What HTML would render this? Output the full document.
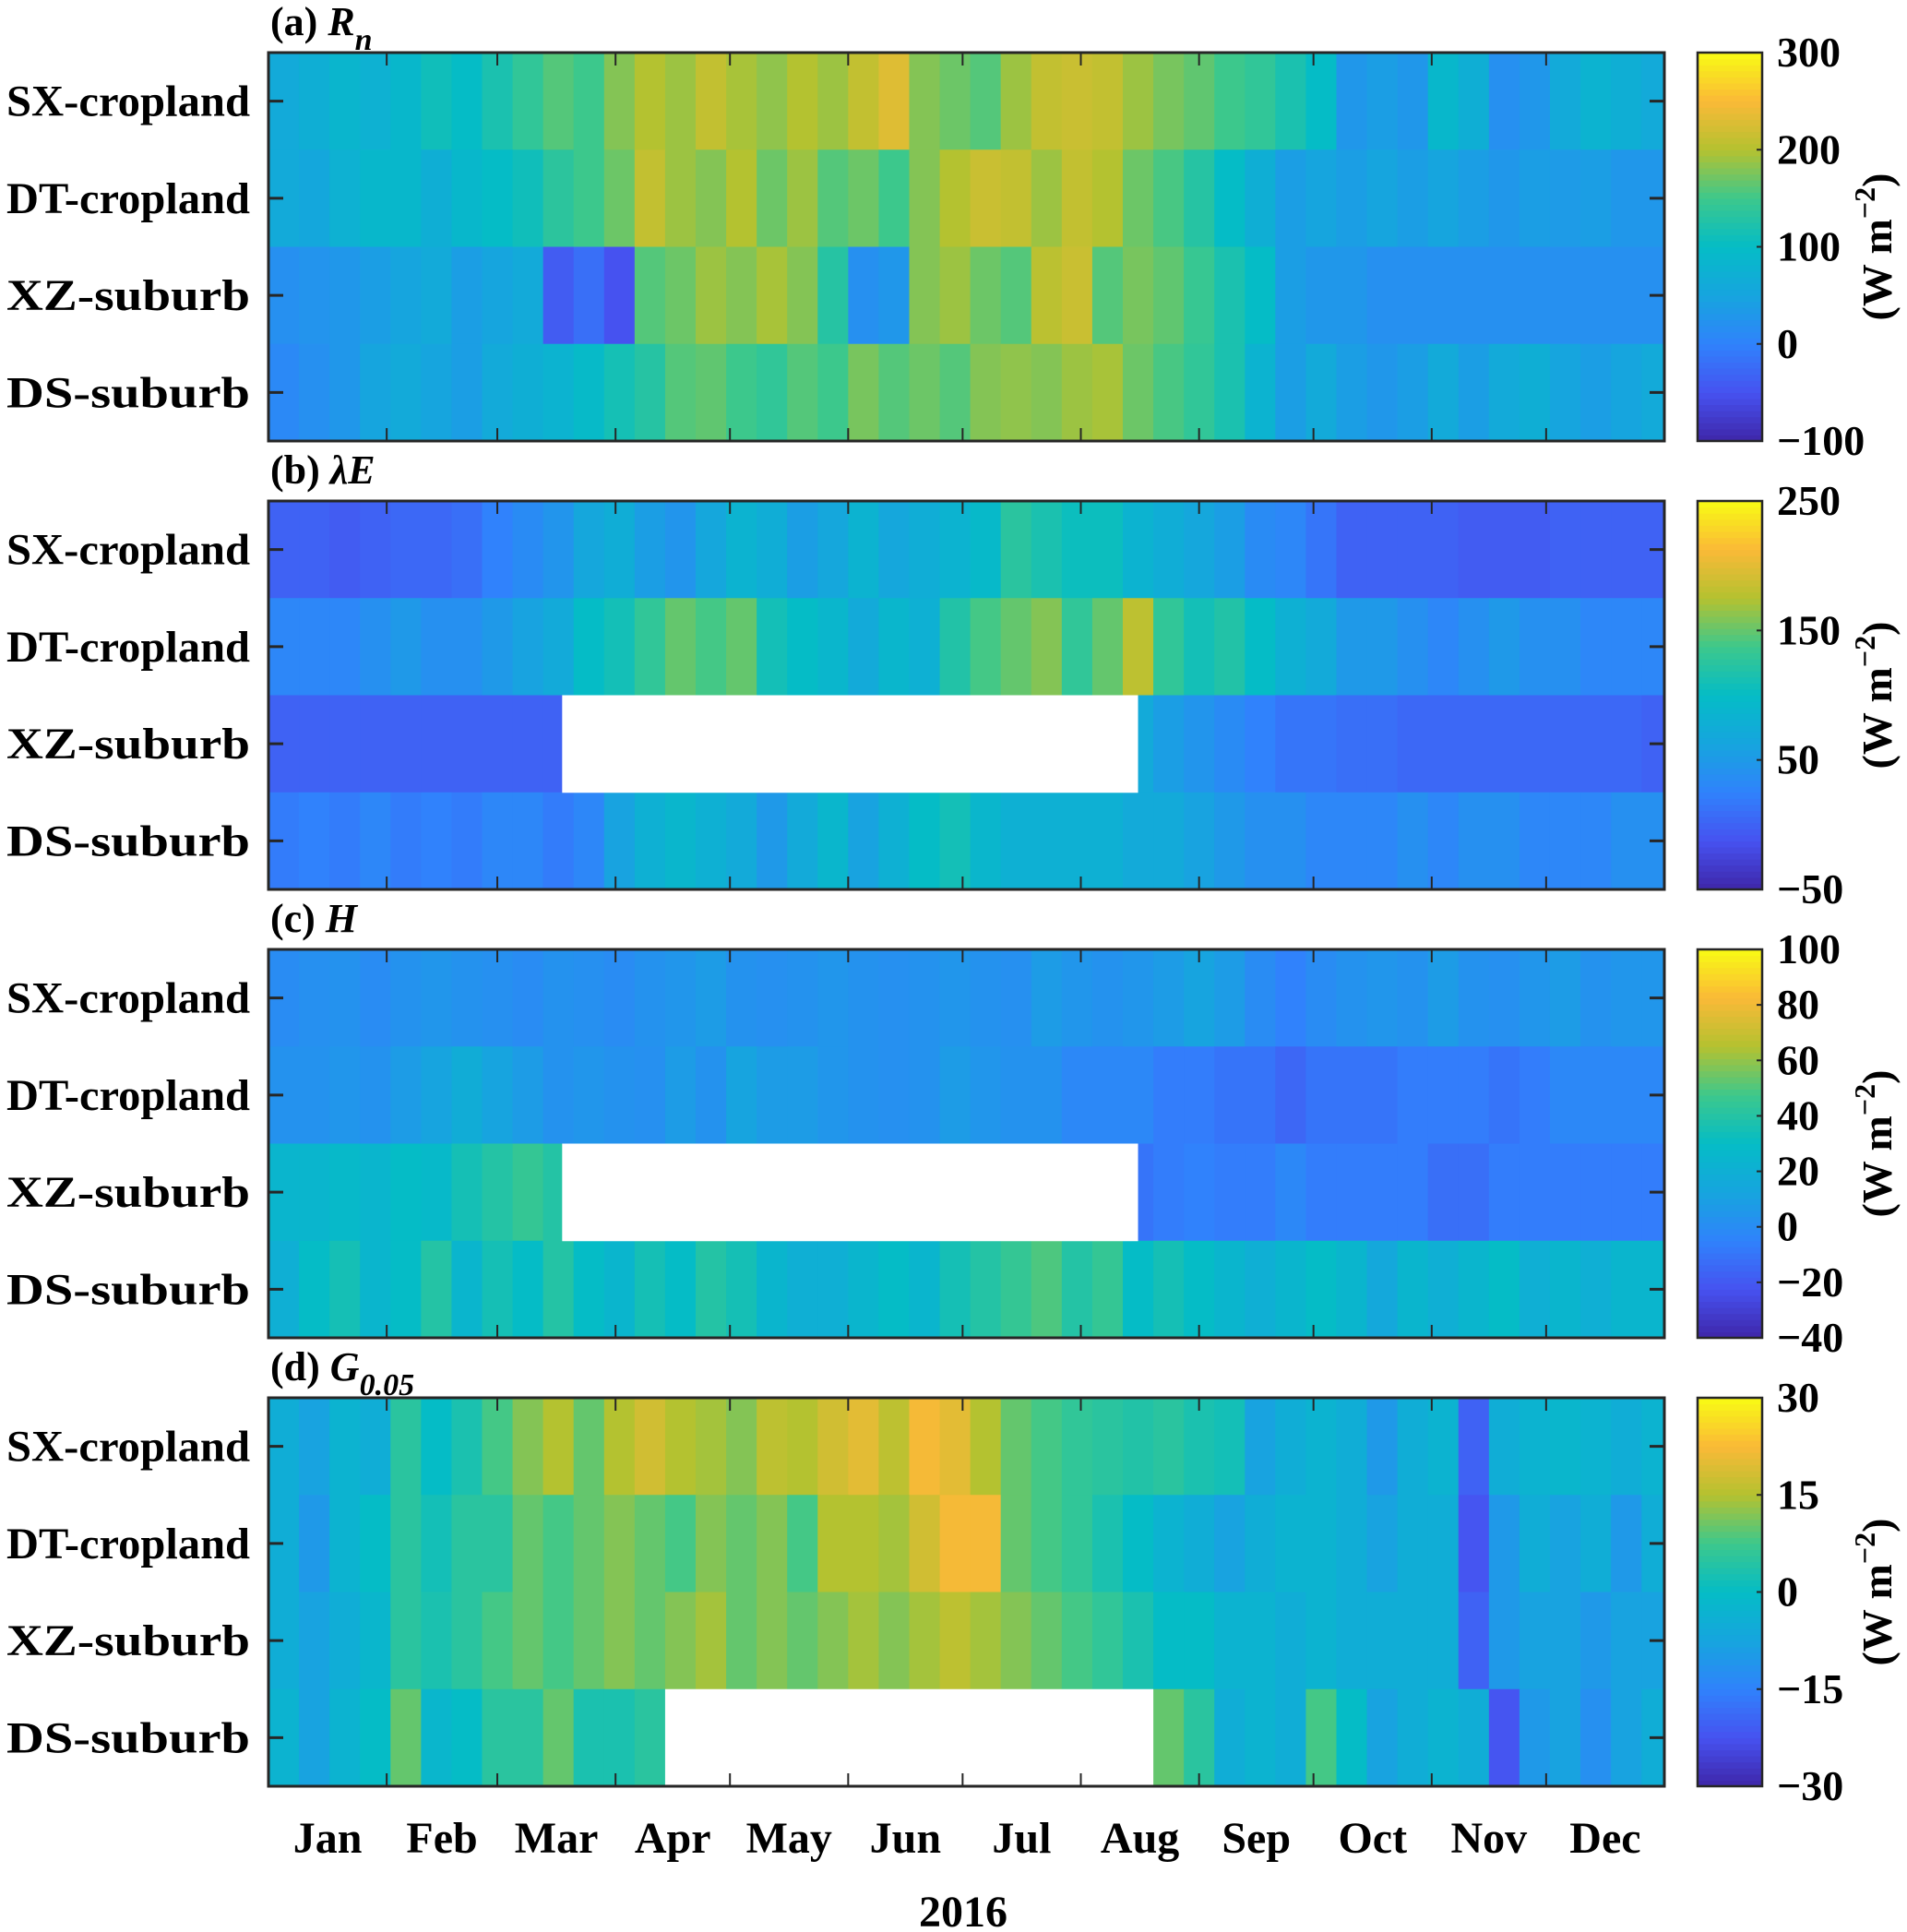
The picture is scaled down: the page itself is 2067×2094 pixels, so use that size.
<!DOCTYPE html>
<html><head><meta charset="utf-8"><style>
html,body{margin:0;padding:0;background:#fff}
svg{display:block}
text{font-family:"Liberation Serif",serif;font-weight:bold;fill:#000}
</style></head><body>
<svg id="fig" width="2067" height="2094" viewBox="0 0 2067 2094" xmlns="http://www.w3.org/2000/svg"></svg>
<script>
// ---- data (8-day bins, day-of-year 2016) ----
const sites = ["SX-cropland","DT-cropland","XZ-suburb","DS-suburb"];
const months = ["Jan","Feb","Mar","Apr","May","Jun","Jul","Aug","Sep","Oct","Nov","Dec"];
const monthStartDays = [1,32,61,92,122,153,183,214,245,275,306,336];
const binDays = 8;
const N = null;
const rnSX = [60,70,85,75,90,110,100,120,140,160,150,180,200,190,210,195,185,200,190,210,230,180,170,160,190,210,215,210,190,175,165,150,140,120,100,30,40,30,90,70,20,30,60,80,70,60];
const rnDT = [60,55,75,90,90,70,90,100,110,135,150,170,210,190,180,200,170,190,160,170,150,180,200,215,210,190,210,200,170,155,130,100,70,40,50,40,50,40,50,40,30,40,35,40,30,30];
const rnXZ = [20,25,30,40,50,60,40,50,60,-40,-20,-50,160,170,190,180,195,180,130,20,30,180,190,170,160,205,215,160,175,165,145,120,100,40,30,30,20,20,20,20,20,20,20,20,20,20];
const rnDS = [10,20,30,50,60,50,40,60,70,80,95,115,130,160,165,150,140,160,150,175,160,170,160,180,185,180,190,195,170,155,140,120,80,40,60,40,30,40,60,40,60,70,50,40,50,60];
const leSX = [0,0,-5,0,5,5,10,25,35,45,65,75,55,45,65,85,75,55,65,85,65,75,85,95,125,115,105,105,85,75,65,55,35,30,15,0,0,0,0,-5,-5,-5,0,0,0,0];
const leDT = [30,30,30,40,50,40,40,50,60,70,100,110,130,150,140,150,110,100,90,70,90,80,120,140,150,160,130,150,180,130,110,120,100,80,70,50,50,40,30,40,50,40,40,30,30,30];
const leXZ = [0,0,0,0,0,0,0,0,0,0,N,N,N,N,N,N,N,N,N,N,N,N,N,N,N,N,N,N,70,55,45,35,25,15,15,10,10,5,5,5,5,5,5,5,5,0];
const leDS = [20,25,20,30,20,25,20,30,30,20,30,60,80,90,80,70,50,70,90,60,80,100,110,90,80,80,80,80,70,70,60,50,40,40,30,30,30,40,30,40,40,30,30,30,40,40];
const hSX = [0,2,3,0,3,5,3,2,0,3,2,0,3,5,8,3,2,3,5,3,2,3,5,3,2,8,5,3,5,8,12,8,0,-5,0,3,5,3,8,3,2,5,8,3,5,5];
const hDT = [3,3,5,3,8,12,18,12,8,3,5,3,2,8,3,12,8,8,5,3,2,3,8,5,3,3,-2,-2,-2,-7,-7,-10,-10,-15,-10,-10,-10,-7,-7,-7,-10,-7,-2,-2,-2,-2];
const hXZ = [25,25,28,25,30,28,35,40,45,40,N,N,N,N,N,N,N,N,N,N,N,N,N,N,N,N,N,N,-10,-7,-5,-7,-7,-2,-7,-7,-7,-7,-12,-12,-7,-7,-7,-7,-7,-7];
const hDS = [20,30,35,25,30,40,25,35,30,40,30,25,35,30,40,35,25,20,20,25,30,25,35,40,45,50,40,45,30,35,30,25,20,25,30,25,15,25,20,25,30,20,25,20,25,25];
const gSX = [-5,-8,-3,-5,5,0,3,8,12,15,10,15,18,15,14,12,16,15,18,20,16,22,20,15,10,8,6,5,4,5,3,2,-8,-5,-3,-5,-10,-5,-3,-20,-5,-3,-2,-3,-5,-3];
const gDT = [-5,-10,-3,0,5,2,5,5,10,8,10,12,10,8,12,10,12,8,15,15,14,18,22,22,10,8,6,3,0,-3,-5,-8,-5,-3,-3,-5,-8,-5,-5,-22,-10,-5,-8,-5,-10,-5];
const gXZ = [-5,-8,-5,-2,5,3,5,8,10,8,10,12,10,12,14,10,12,10,12,14,12,14,16,14,12,10,8,6,3,0,0,-3,-3,-5,-3,-5,-5,-5,-5,-20,-10,-8,-8,-10,-8,-8];
const gDS = [-3,-8,-3,0,10,-2,0,5,5,10,3,3,5,N,N,N,N,N,N,N,N,N,N,N,N,N,N,N,N,10,5,-5,-3,-5,8,0,-8,-5,-3,-5,-22,-10,-8,-12,-8,-5];
const gapDays = {b:[78,228], c:[78,228], d:[105,232]};
const rnTicks = [300,200,100,0,-100];
const leTicks = [250,150,50,-50];
const hTicks = [100,80,60,40,20,0,-20,-40];
const gTicks = [30,15,0,-15,-30];
const ranges = [[-100,300],[-50,250],[-40,100],[-30,30]];

// ---- layout ----
const svg = document.getElementById('fig');
const NS = 'http://www.w3.org/2000/svg';
const X0 = 291, X1 = 1804, PH = 421;
const tops = [57,543,1029,1515];
const CB0 = 1840, CB1 = 1910;
const xScale = d => X0 + (d-1)/366*(X1-X0);
const stops = [[0,62,38,168],[0.125,70,82,240],[0.25,48,130,252],[0.375,22,165,222],[0.5,5,188,198],[0.625,60,200,140],[0.75,180,194,48],[0.875,250,185,55],[1,249,251,20]];
function parula(t){t=Math.max(0,Math.min(1,t));for(let i=1;i<stops.length;i++){if(t<=stops[i][0]){const a=stops[i-1],b=stops[i],f=(t-a[0])/(b[0]-a[0]);return `rgb(${Math.round(a[1]+f*(b[1]-a[1]))},${Math.round(a[2]+f*(b[2]-a[2]))},${Math.round(a[3]+f*(b[3]-a[3]))})`;}}return 'rgb(249,251,20)';}
function el(tag, attrs, parent){const e=document.createElementNS(NS,tag);for(const k in attrs)e.setAttribute(k,attrs[k]);(parent||svg).appendChild(e);return e;}

const panels = [
 {key:'a', series:[rnSX,rnDT,rnXZ,rnDS], ticks:rnTicks, title:['(a) ','R','n'], gap:null, gapRow:-1},
 {key:'b', series:[leSX,leDT,leXZ,leDS], ticks:leTicks, title:['(b) ','λE',''], gap:gapDays.b, gapRow:2},
 {key:'c', series:[hSX,hDT,hXZ,hDS], ticks:hTicks, title:['(c) ','H',''], gap:gapDays.c, gapRow:2},
 {key:'d', series:[gSX,gDT,gXZ,gDS], ticks:gTicks, title:['(d) ','G','0.05'], gap:gapDays.d, gapRow:3}
];

panels.forEach((p,pi)=>{
  const top = tops[pi], rh = PH/4, [vmin,vmax] = ranges[pi];
  const g = el('g',{});
  
  
  p.series.forEach((arr,ri)=>{
    const row = el('g',{},g);
    
    
    arr.forEach((v,bi)=>{
      if(v===null) return;
      const d0 = bi*binDays+1, d1 = Math.min(367,d0+binDays);
      const r = el('rect',{x:xScale(d0).toFixed(2),y:(top+ri*rh).toFixed(2),width:(xScale(d1)-xScale(d0)+0.6).toFixed(2),height:(rh+0.5).toFixed(2),fill:parula((v-vmin)/(vmax-vmin))},row);
      
      
    });
  });
  if(p.gap){
    const gr = el('rect',{x:xScale(p.gap[0]),y:top+p.gapRow*rh,width:xScale(p.gap[1]+1)-xScale(p.gap[0]),height:rh+(p.gapRow===3?0:0.5),fill:'#fff'},g);
    
    
  }
  monthStartDays.slice(1).forEach(d=>{
    const x = xScale(d);
    el('line',{x1:x,x2:x,y1:top,y2:top+14,stroke:'#262626','stroke-width':2},g);
    el('line',{x1:x,x2:x,y1:top+PH,y2:top+PH-14,stroke:'#262626','stroke-width':2},g);
  });
  sites.forEach((s,ri)=>{
    const y = top + rh*(ri+0.5);
    el('line',{x1:X0,x2:X0+16,y1:y,y2:y,stroke:'#262626','stroke-width':3},g);
    el('line',{x1:X1,x2:X1-16,y1:y,y2:y,stroke:'#262626','stroke-width':3},g);
    const t = el('text',{x:271,y:y+16,'text-anchor':'end','font-size':48,textLength:264,lengthAdjust:'spacingAndGlyphs'},g);
    t.textContent = s;
    
    
  });
  const fr = el('rect',{x:X0,y:top,width:X1-X0,height:PH,fill:'none',stroke:'#262626','stroke-width':3},g);
  
  
  const tt = el('text',{x:293,y:top-19,'font-size':44},g);
  
  
  const s1 = el('tspan',{},tt); s1.textContent = p.title[0];
  const s2 = el('tspan',{'font-style':'italic'},tt); s2.textContent = p.title[1];
  if(p.title[2]){const s3 = el('tspan',{'font-style':'italic','font-size':34,dy:16},tt); s3.textContent = p.title[2];}
  const cb = el('g',{},g);
  
  
  const nSeg = 64;
  for(let i=0;i<nSeg;i++){
    el('rect',{x:CB0,y:top+PH-(i+1)*PH/nSeg,width:CB1-CB0,height:PH/nSeg+0.6,fill:parula((i+0.5)/nSeg)},cb);
  }
  el('rect',{x:CB0,y:top,width:CB1-CB0,height:PH,fill:'none',stroke:'#262626','stroke-width':2.5},cb);
  p.ticks.forEach(tv=>{
    const y = top + PH*(vmax-tv)/(vmax-vmin);
    el('line',{x1:CB1,x2:CB1-6,y1:y,y2:y,stroke:'#262626','stroke-width':2},cb);
    const lt = el('text',{x:1926,y:y+15,'font-size':46},cb);
    lt.textContent = tv<0 ? '\u2212'+Math.abs(tv) : String(tv);
    
    
  });
  const cy = top + PH/2;
  const ut = el('text',{x:0,y:0,'font-size':46,'text-anchor':'middle',transform:`translate(2050,${cy}) rotate(-90)`},cb);
  
  
  const u1 = el('tspan',{},ut); u1.textContent='(W m';
  const u2 = el('tspan',{dy:-18,'font-size':32}, ut); u2.textContent='\u22122';
  const u3 = el('tspan',{dy:18}, ut); u3.textContent=')';
});

months.forEach((m,i)=>{
  const d0 = monthStartDays[i], d1 = i<11?monthStartDays[i+1]:367;
  const t = el('text',{x:xScale((d0+d1)/2),y:2008,'text-anchor':'middle','font-size':48});
  t.textContent = m;
  
  
});
const yr = el('text',{x:1044,y:2088,'text-anchor':'middle','font-size':48});
yr.textContent = '2016';


</script>
</body></html>
